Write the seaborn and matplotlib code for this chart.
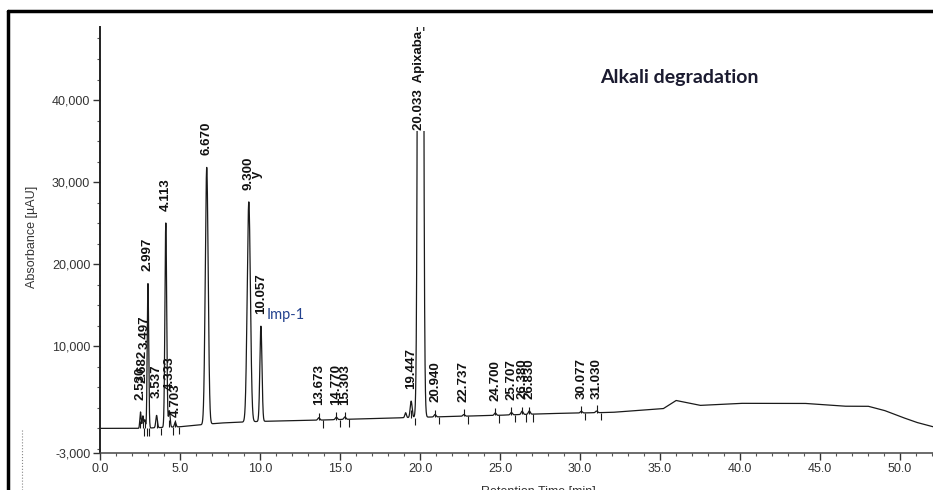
import numpy as np
import pandas as pd
import matplotlib.pyplot as plt
import seaborn as sns
from matplotlib.lines import Line2D
from matplotlib.ticker import FixedLocator, MultipleLocator, FuncFormatter

# Peaks: retention time [min], height above baseline [uAU], sigma [min]
peak_rt = [2.530, 2.682, 2.800, 2.997, 3.537, 4.113, 4.333, 4.703, 6.670, 9.300, 10.057,
           13.673, 14.770, 15.303, 19.100, 19.447, 20.033, 20.940, 22.737, 24.700, 25.707,
           26.380, 26.830, 30.077, 31.030]
peak_height = [2000, 1500, 1000, 17600, 1500, 24900, 2000, 600, 31300, 26800, 11600,
               300, 300, 300, 600, 2000, 350000, 300, 200, 300, 300,
               400, 400, 200, 200]
peak_sigma = [0.04, 0.04, 0.04, 0.045, 0.05, 0.055, 0.05, 0.05, 0.09, 0.1, 0.065,
              0.06, 0.06, 0.06, 0.05, 0.06, 0.10, 0.06, 0.06, 0.06, 0.06,
              0.06, 0.06, 0.06, 0.06]
peak_label = ["2.530", "2.682", "3.497", "2.997", "3.537", "4.113", "4.333", "4.703", "6.670",
              "9.300", "10.057", "13.673", "14.770", "15.303", "", "19.447", "20.033  Apixaba",
              "20.940", "22.737", "24.700", "25.707", "26.380", "26.830", "30.077", "31.030"]

# Baseline drift (incl. the gradient hump at ~36 min)
base_t = [0, 2.5, 5, 7.5, 10, 13.6, 17, 22, 25, 28, 32, 35.2, 36.0, 37.5, 40, 44, 46.5, 48, 49, 50, 51, 52.06]
base_v = [0, 0, 200, 650, 850, 1000, 1200, 1450, 1600, 1800, 1950, 2400, 3400, 2800, 3050, 3050,
          2700, 2700, 2200, 1450, 750, 200]

y_major = [-3000, 10000, 20000, 30000, 40000]

# label placement tweaks (style only)
label_lift = 1500
label_nudge = {"2.682": 2500, "3.497": 7200, "3.537": 600, "4.333": 1000, "4.703": -850}

t = np.arange(0, 52.06, 0.004)
signal = np.interp(t, base_t, base_v)
for rt, h, s in zip(peak_rt, peak_height, peak_sigma):
    signal = signal + h * np.exp(-0.5 * ((t - rt) / s) ** 2)
df = pd.DataFrame({"time": t, "abs": signal})

sns.set_theme(style="ticks")
plt.rcParams["font.family"] = ["Liberation Sans", "DejaVu Sans"]

fig = plt.figure(figsize=(9.33, 4.9), dpi=100)
ax = fig.add_axes([100 / 933, 37 / 490, 833 / 933, 426 / 490])

sns.lineplot(data=df, x="time", y="abs", ax=ax, color="#1a1a1a", lw=0.9, sort=False, estimator=None)

ax.set_xlim(0, 52.06)
ax.set_ylim(-3000, 48900)

# integration marks at the small peaks
for rt, h, lab in zip(peak_rt, peak_height, peak_label):
    if h < 3000 and lab:
        b = np.interp(rt, base_t, base_v)
        ax.vlines(rt, b, b + 900, color="#1a1a1a", lw=0.8)
        ax.vlines(rt + 0.25, b - 900, b, color="#1a1a1a", lw=0.8)

# peak labels
for rt, h, lab in zip(peak_rt, peak_height, peak_label):
    if not lab:
        continue
    b = np.interp(rt, base_t, base_v)
    if h > 100000:
        ax.text(rt - 0.12, 36300, lab, rotation=90, ha="center", va="bottom", fontsize=9.5,
                fontweight="bold", color="#111111",
                bbox=dict(facecolor="white", edgecolor="none", pad=0.5))
        continue
    y = b + h + label_lift + label_nudge.get(lab, 0)
    ax.text(rt, y, lab, rotation=90, ha="center", va="bottom", fontsize=9.5,
            fontweight="bold", color="#111111")

ax.text(9.300 + 0.5, 30900, "y", rotation=90, ha="center", va="center", fontsize=9.5,
        fontweight="bold", color="#111111")
ax.text(10.40, 13800, "Imp-1", ha="left", va="center", fontsize=10.5, color="#24438f",
        family=["Lato", "DejaVu Sans"])

fig.text(0.643, 0.841, "Alkali degradation", ha="left", va="center", fontsize=14,
         fontweight="bold", color="#1b1b30", family=["Lato", "DejaVu Sans"])

# axes styling
sns.despine(ax=ax)
ax.spines["left"].set_color("#222222")
ax.spines["left"].set_linewidth(1.4)
ax.spines["bottom"].set_color("#444444")
ax.spines["bottom"].set_linewidth(1.1)

ax.xaxis.set_major_locator(MultipleLocator(5))
ax.xaxis.set_minor_locator(MultipleLocator(1))
ax.xaxis.set_major_formatter(FuncFormatter(lambda v, p: f"{v:.1f}"))
ax.yaxis.set_major_locator(FixedLocator(y_major))
ax.yaxis.set_minor_locator(MultipleLocator(2500))
ax.yaxis.set_major_formatter(FuncFormatter(lambda v, p: f"{v:,.0f}"))
ax.tick_params(axis="both", which="major", length=5, width=1, color="#333333",
               labelsize=9, labelcolor="#333333", pad=2)
ax.tick_params(axis="both", which="minor", length=2.5, width=0.8, color="#555555")

ax.set_xlabel("Retention Time [min]", fontsize=9, color="#333333")
ax.xaxis.set_label_coords(0.526, -0.078)
ax.set_ylabel("Absorbance [µAU]", fontsize=9, color="#333333")
ax.yaxis.set_label_coords(-0.074, 0.507)

# scan frame around the figure
fig.add_artist(Line2D([8 / 933, 8 / 933], [0, 1 - 11 / 490], transform=fig.transFigure,
                      color="black", lw=2.5))
fig.add_artist(Line2D([8 / 933, 1], [1 - 11 / 490, 1 - 11 / 490], transform=fig.transFigure,
                      color="black", lw=2.5))
fig.add_artist(Line2D([22 / 933, 22 / 933], [0, 60 / 490], transform=fig.transFigure,
                      color="#888888", lw=0.8, ls=":"))

plt.savefig("out.png", dpi=100)
